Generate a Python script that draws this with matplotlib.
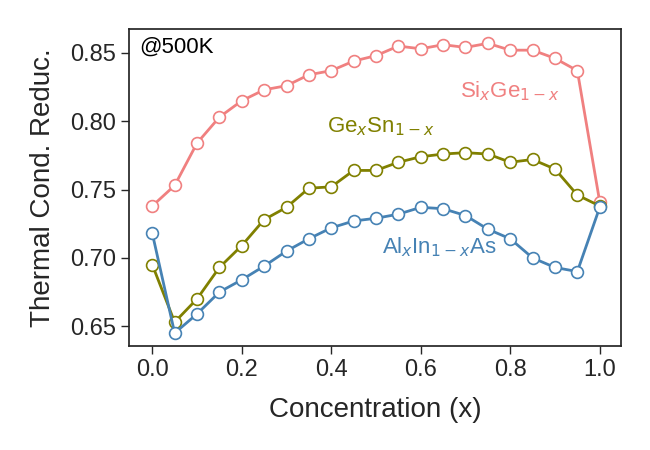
import numpy as np
import matplotlib
matplotlib.use("Agg")
import matplotlib.pyplot as plt
import seaborn as sns

conc = [0.0, 0.05, 0.1, 0.15, 0.2, 0.25, 0.3, 0.35, 0.4, 0.45, 0.5,
        0.55, 0.6, 0.65, 0.7, 0.75, 0.8, 0.85, 0.9, 0.95, 1.0]

sige = [0.738, 0.753, 0.784, 0.803, 0.815, 0.823, 0.826, 0.834, 0.837, 0.844, 0.848,
        0.855, 0.853, 0.856, 0.854, 0.857, 0.852, 0.852, 0.846, 0.837, 0.741]
gesn = [0.695, 0.653, 0.670, 0.693, 0.709, 0.728, 0.737, 0.751, 0.752, 0.764, 0.764,
        0.770, 0.774, 0.776, 0.777, 0.776, 0.770, 0.772, 0.765, 0.746, 0.738]
alinas = [0.718, 0.645, 0.659, 0.675, 0.684, 0.694, 0.705, 0.714, 0.722, 0.727, 0.729,
          0.732, 0.737, 0.736, 0.731, 0.721, 0.714, 0.700, 0.693, 0.690, 0.737]

sns.set_theme(style="ticks")
plt.rcParams["font.family"] = ["Liberation Sans", "DejaVu Sans"]

fig, ax = plt.subplots(figsize=(6.5, 4.5), dpi=100)

# (values, colour, label, label x, label baseline y)
series = [
    (sige, "lightcoral", r"Si$_x$Ge$_{1-x}$", 0.6875, 0.8176),
    (gesn, "olive", r"Ge$_x$Sn$_{1-x}$", 0.390, 0.7917),
    (alinas, "steelblue", r"Al$_x$In$_{1-x}$As", 0.5127, 0.7032),
]
for vals, col, lab, lx, ly in series:
    ax.plot(conc, vals, "-o", color=col, lw=2, ms=8.5, mfc="white", mec=col, mew=1.2)
    ax.text(lx, ly, lab, color=col, fontsize=16, ha="left", va="baseline")

ax.text(0.0203, 0.924, "@500K", transform=ax.transAxes, fontsize=16,
        va="baseline", ha="left", color="black")

ax.set_xlim(-0.052, 1.047)
ax.set_ylim(0.6355, 0.8675)
ax.set_yticks([0.65, 0.70, 0.75, 0.80, 0.85])
ax.set_xticks([0.0, 0.2, 0.4, 0.6, 0.8, 1.0])
ax.tick_params(labelsize=17, length=6, width=1)
ax.set_xlabel("Concentration (x)", fontsize=20, labelpad=11)
ax.set_ylabel("Thermal Cond. Reduc.", fontsize=20, labelpad=10)

fig.subplots_adjust(left=0.1985, right=0.955, top=0.9356, bottom=0.231)
fig.savefig("out.png", dpi=100)
